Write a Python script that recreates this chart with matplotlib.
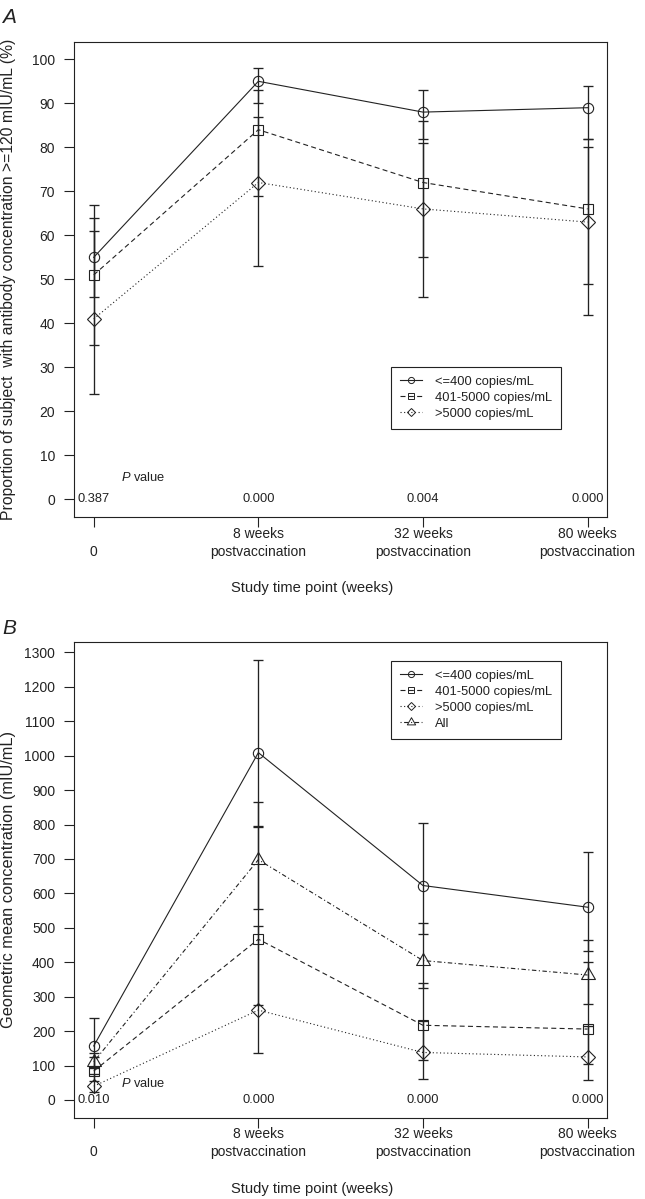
import matplotlib
matplotlib.use('Agg')
import matplotlib.pyplot as plt
from matplotlib.lines import Line2D
from matplotlib.path import Path
import numpy as np

plt.rcParams['font.family'] = ['Liberation Sans', 'DejaVu Sans']
plt.rcParams['lines.scale_dashes'] = False
plt.rcParams['mathtext.fontset'] = 'custom'
plt.rcParams['mathtext.it'] = 'Liberation Sans:italic'
plt.rcParams['mathtext.rm'] = 'Liberation Sans'

INK = '#222222'

# ---------------- data ----------------
timepoints = ['\n0', '8 weeks\npostvaccination', '32 weeks\npostvaccination', '80 weeks\npostvaccination']
groups = ['<=400 copies/mL', '401-5000 copies/mL', '>5000 copies/mL', 'All']

# Panel A: proportion with antibody >= 120 mIU/mL (%)
a_le400 = [55, 95, 88, 89]
a_le400_lo = [46, 90, 82, 82]
a_le400_hi = [64, 98, 93, 94]
a_mid = [51, 84, 72, 66]
a_mid_lo = [35, 69, 55, 49]
a_mid_hi = [67, 93, 86, 80]
a_gt5000 = [41, 72, 66, 63]
a_gt5000_lo = [24, 53, 46, 42]
a_gt5000_hi = [61, 87, 81, 82]
a_pvalues = ['0.387', '0.000', '0.004', '0.000']

# Panel B: geometric mean concentration (mIU/mL)
b_le400 = [157, 1009, 623, 560]
b_le400_lo = [96, 793, 483, 432]
b_le400_hi = [237, 1279, 804, 721]
b_mid = [84, 467, 217, 206]
b_mid_lo = [55, 275, 117, 104]
b_mid_hi = [125, 795, 339, 402]
b_gt5000 = [40, 261, 138, 125]
b_gt5000_lo = [22, 135, 61, 57]
b_gt5000_hi = [75, 504, 230, 215]
b_all = [111, 698, 405, 363]
b_all_lo = [92, 554, 326, 278]
b_all_hi = [135, 866, 513, 465]
b_pvalues = ['0.010', '0.000', '0.000', '0.000']

xpos = np.arange(len(timepoints))

# ---------------- styles ----------------
D = 7.4  # circle diameter in points
tri_path = Path([(0, 1.555), (-1.3468, -0.7776), (1.3468, -0.7776), (0, 1.555)],
                [Path.MOVETO, Path.LINETO, Path.LINETO, Path.CLOSEPOLY])
styles = {
    'le400': dict(marker='o', ms=D, dashes=None),
    'mid': dict(marker='s', ms=0.886 * D, dashes=(3.6, 2.4)),
    'gt5000': dict(marker='D', ms=D, dashes=(0.8, 1.8)),
    'all': dict(marker=tri_path, ms=1.555 * D, dashes=(0.8, 1.8, 3.2, 1.8)),
}

FS_TICK = 10
FS_LAB = 11.3

fig = plt.figure(figsize=(6.45, 11.99), dpi=100)
axA = fig.add_axes([74 / 645, 1 - 516.9 / 1199, 533.3 / 645, 475.2 / 1199])
axB = fig.add_axes([74 / 645, 1 - 1117.6 / 1199, 533.3 / 645, 475.9 / 1199])


def draw_series(ax, y, lo, hi, key):
    y = np.asarray(y, float)
    lo = np.asarray(lo, float)
    hi = np.asarray(hi, float)
    ax.errorbar(xpos, y, yerr=[y - lo, hi - y], fmt='none', ecolor=INK,
                elinewidth=0.95, capsize=3.7, capthick=0.95, zorder=2)
    st = styles[key]
    ln, = ax.plot(xpos, y, color=INK, lw=0.8, marker=st['marker'], ms=st['ms'],
                  mfc='none', mec=INK, mew=0.8, zorder=3)
    if st['dashes'] is not None:
        ln.set_dashes(st['dashes'])


def legend_handle(key):
    st = styles[key]
    h = Line2D([], [], color=INK, lw=0.8, marker=st['marker'], ms=st['ms'] * 0.6,
               mfc='none', mec=INK, mew=0.7)
    if st['dashes'] is not None:
        h.set_dashes(st['dashes'])
    return h


def style_axes(ax, ylim, yticks, ylabel, ylab_fs):
    ax.set_xlim(-0.12, 3.12)
    ax.set_ylim(*ylim)
    ax.set_yticks(yticks)
    ax.set_yticklabels([str(v) for v in yticks])
    ax.set_xticks(xpos)
    ax.set_xticklabels(timepoints, linespacing=1.37)
    ax.tick_params(axis='y', direction='out', length=7.5, width=0.8, pad=6,
                   labelsize=FS_TICK, colors=INK)
    ax.tick_params(axis='x', direction='out', length=7, width=0.8, pad=0,
                   labelsize=FS_TICK, colors=INK)
    for s in ax.spines.values():
        s.set_color(INK)
        s.set_linewidth(0.8)
    ax.set_ylabel(ylabel, fontsize=ylab_fs, color=INK)
    ax.yaxis.set_label_coords(-0.108, 0.5)
    ax.set_xlabel('Study time point (weeks)', fontsize=10.6, color=INK)
    ax.xaxis.set_label_coords(0.446, -0.150)
    ax.xaxis.label.set_va('center')


def make_legend(ax, keys, labels, top):
    leg = ax.legend([legend_handle(k) for k in keys], labels,
                    loc='upper left', bbox_to_anchor=(0.594, top), fontsize=9.3,
                    frameon=True, fancybox=False, edgecolor=INK, framealpha=1,
                    handlelength=1.75, handletextpad=0.95, labelspacing=0.3,
                    borderpad=0.7, borderaxespad=0)
    leg.get_frame().set_linewidth(0.8)
    for t in leg.get_texts():
        t.set_color(INK)
    return leg


# ---------------- Panel A ----------------
draw_series(axA, a_le400, a_le400_lo, a_le400_hi, 'le400')
draw_series(axA, a_mid, a_mid_lo, a_mid_hi, 'mid')
draw_series(axA, a_gt5000, a_gt5000_lo, a_gt5000_hi, 'gt5000')
style_axes(axA, (-4, 104), list(range(0, 101, 10)),
           'Proportion of subject  with antibody concentration >=120 mIU/mL (%)', 11.3)
for x, p in zip(xpos, a_pvalues):
    axA.text(x, 0, p, ha='center', va='center', fontsize=9.3, color=INK)
axA.text(0.30, 5, r'$\mathit{P}$ value', ha='center', va='center', fontsize=9.3, color=INK)
make_legend(axA, ['le400', 'mid', 'gt5000'], groups[:3], 0.316)

# ---------------- Panel B ----------------
draw_series(axB, b_le400, b_le400_lo, b_le400_hi, 'le400')
draw_series(axB, b_mid, b_mid_lo, b_mid_hi, 'mid')
draw_series(axB, b_gt5000, b_gt5000_lo, b_gt5000_hi, 'gt5000')
draw_series(axB, b_all, b_all_lo, b_all_hi, 'all')
style_axes(axB, (-51.2, 1331.2), list(range(0, 1301, 100)),
           'Geometric mean concentration (mIU/mL)', 11.8)
for x, p in zip(xpos, b_pvalues):
    axB.text(x, 0, p, ha='center', va='center', fontsize=9.3, color=INK)
axB.text(0.30, 48, r'$\mathit{P}$ value', ha='center', va='center', fontsize=9.3, color=INK)
make_legend(axB, ['le400', 'mid', 'gt5000', 'all'], groups, 0.960)

fig.text(2 / 645, 1 - 22.7 / 1199, 'A', fontsize=15, style='italic', ha='left',
         va='baseline', color=INK)
fig.text(2 / 645, 1 - 634 / 1199, 'B', fontsize=15, style='italic', ha='left',
         va='baseline', color=INK)

fig.savefig('out.png', dpi=100, facecolor='white')
